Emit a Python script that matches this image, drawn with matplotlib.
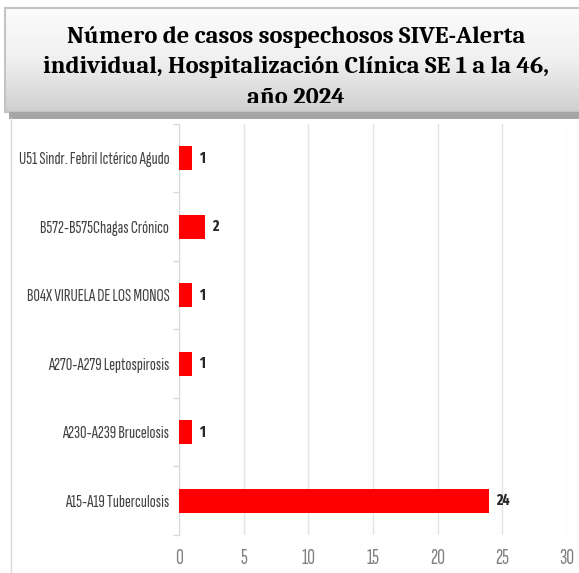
import matplotlib
matplotlib.use("Agg")
import matplotlib.pyplot as plt
import numpy as np
from matplotlib.patches import Rectangle
from matplotlib.colors import LinearSegmentedColormap

categories = [
    "U51 Sindr. Febril Ictérico Agudo",
    "B572-B575Chagas Crónico",
    "B04X VIRUELA DE LOS MONOS",
    "A270-A279 Leptospirosis",
    "A230-A239 Brucelosis",
    "A15-A19 Tuberculosis",
]
values = [1, 2, 1, 1, 1, 24]
xticks = [0, 5, 10, 15, 20, 25, 30]
title_lines = [
    "Número de casos sospechosos SIVE-Alerta",
    "individual, Hospitalización Clínica SE 1 a la 46,",
    "año 2024",
]

LABEL_FONT = "Sofia Sans Extra Condensed"
VALUE_FONT = "Fira Sans Extra Condensed"
TITLE_FONT = "Caladea"

W, H = 579, 573
fig = plt.figure(figsize=(W / 100, H / 100), dpi=100)
fig.patch.set_facecolor("white")
renderer = fig.canvas.get_renderer()


def fx(px):
    return px / W


def fy(py):
    return 1 - py / H


def fit_size(text, family, weight, target_px, base=10.0):
    t = fig.text(0, 0, text, fontsize=base, family=family, fontweight=weight)
    w = t.get_window_extent(renderer).width
    t.remove()
    return base * target_px / w


# chart area left frame line
fig.add_artist(plt.Line2D([fx(11), fx(11)], [fy(118), 0], color="#d9d9d9", lw=1))

# Title box shadow
fig.add_artist(Rectangle((fx(9), fy(119)), 1, fy(112) - fy(119),
                         transform=fig.transFigure, facecolor="#a6a6a6", edgecolor="none"))
# Title box gradient
tax = fig.add_axes([fx(5), fy(112), 1, fy(8) - fy(112)])
grad = np.linspace(0, 1, 256).reshape(-1, 1)
cmap = LinearSegmentedColormap.from_list("g", ["#fcfcfc", "#f0f0f0", "#cfcfcf"])
tax.imshow(grad, aspect="auto", cmap=cmap, extent=[0, 1, 0, 1], origin="upper")
tax.set_xlim(0, 1)
tax.set_ylim(0, 1)
tax.set_xticks([])
tax.set_yticks([])
for s in tax.spines.values():
    s.set_color("#c4c4c4")
    s.set_linewidth(1.5)

tsize = fit_size(title_lines[0], TITLE_FONT, "bold", 460)
clip = Rectangle((0, fy(103)), 1, 1, transform=fig.transFigure)
for line, base_y in zip(title_lines, [42.5, 73.5, 104]):
    t = fig.text(fx(296), fy(base_y), line, ha="center", va="baseline",
                 fontsize=tsize, fontweight="bold", family=TITLE_FONT, color="#000000")
    t.set_clip_path(clip)

# Main axes
ax = fig.add_axes([fx(179), fy(535), fx(567) - fx(179), fy(124) - fy(535)])
y = np.arange(len(categories))
ax.barh(y, values, height=0.35, color="#ff0000", zorder=3)
ax.set_ylim(len(categories) - 0.5, -0.5)
ax.set_xlim(0, 30)

lsize = fit_size(categories[0], LABEL_FONT, "normal", 151)
ax.set_xticks(xticks)
ax.set_xticklabels([str(t) for t in xticks], fontsize=lsize * 1.2, color="#808080",
                   family=LABEL_FONT)
ax.set_yticks(y)
ax.set_yticklabels(categories, fontsize=lsize, color="#404040", family=LABEL_FONT)
ax.tick_params(axis="y", which="major", length=0, pad=7)
ax.set_yticks(np.arange(-0.5, len(categories), 1), minor=True)
ax.tick_params(axis="y", which="minor", length=4, color="#d9d9d9", width=1)
ax.tick_params(axis="x", length=0, pad=10)
ax.grid(axis="x", color="#e3e3e3", lw=1, zorder=0)
for k in ["top", "right", "bottom"]:
    ax.spines[k].set_visible(False)
ax.spines["left"].set_color("#d9d9d9")

for yi, v in zip(y, values):
    ax.text(v + 0.55, yi, str(v), va="center", ha="left", fontsize=11,
            fontweight="bold", color="#262626", family=VALUE_FONT)

fig.savefig("out.png", dpi=100)
